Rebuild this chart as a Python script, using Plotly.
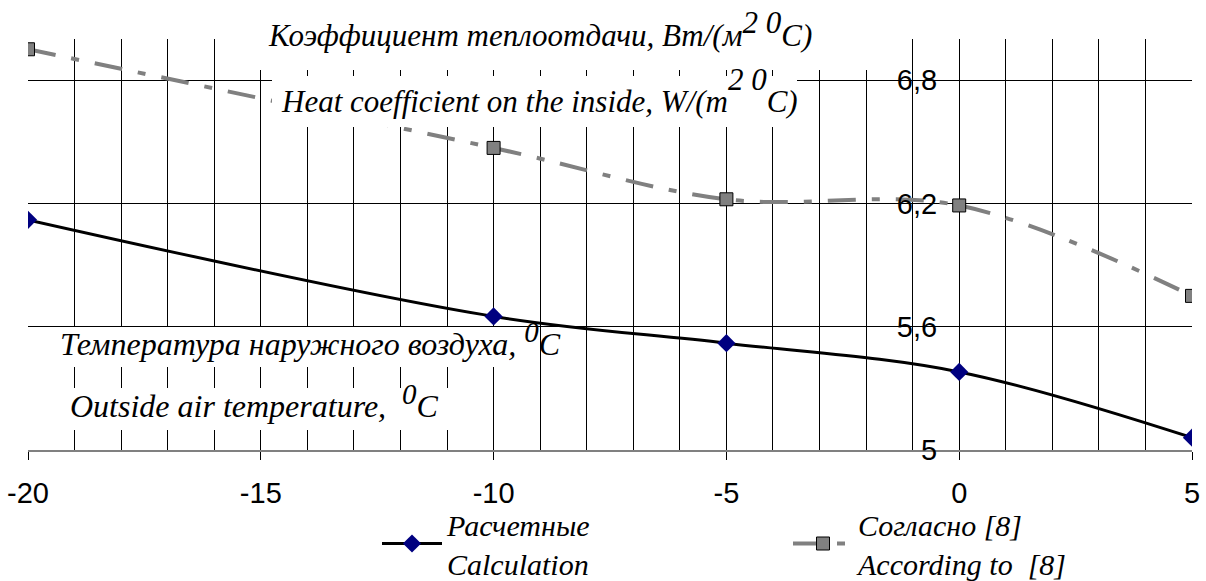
import plotly.graph_objects as go

# Outside air temperature, °C
temps = [-20, -10, -5, 0, 5]
# Heat coefficient on the inside, W/(m2 °C)
calc_vals = [6.12, 5.65, 5.52, 5.38, 5.06]
ref_vals = [6.95, 6.47, 6.22, 6.19, 5.75]

x_ticks = [-20, -15, -10, -5, 0, 5]
x_tick_labels = ["-20", "-15", "-10", "-5", "0", "5"]
y_ticks = [5, 5.6, 6.2, 6.8]
y_tick_labels = ["5", "5,6", "6,2", "6,8"]

calc_name = "Расчетные<br>Calculation"
ref_name = "Согласно [8]<br>According to  [8]"

W, H = 1206, 581
ML, MR, MT, MB = 28, 14, 39, 131
PW, PH = W - ML - MR, H - MT - MB

SERIF = dict(family="Liberation Serif, Times New Roman, serif", size=31,
             color="black", style="italic")
SANS = dict(family="Liberation Sans, Arial, sans-serif", size=29, color="black")


def px(xp):
    return (xp - ML) / PW


def py(yp):
    return (MT + PH - yp) / PH


def raised(text, size, levels):
    # full-size superscript, lifted one or two superscript steps
    inner = "<span style='font-size:{}px'>{}</span>".format(size, text)
    return "<sup>" * levels + inner + "</sup>" * levels


fig = go.Figure()
fig.add_trace(go.Scatter(
    x=temps, y=calc_vals, name=calc_name, mode="lines+markers",
    line=dict(color="black", width=3, shape="spline", smoothing=1),
    marker=dict(symbol="diamond", size=14, color="#000080"),
))
fig.add_trace(go.Scatter(
    x=temps, y=ref_vals, name=ref_name, mode="lines+markers",
    line=dict(color="#808080", width=4, shape="spline", smoothing=1,
              dash="28px,16px,8px,16px"),
    marker=dict(symbol="square", size=13, color="#808080",
                line=dict(color="black", width=1)),
))

# white label boxes sitting over the grid
boxes = [(240, 0, 890, 70), (272, 76, 797, 127),
         (30, 327, 515, 367), (30, 388, 470, 430)]
for x0, y0, x1, y1 in boxes:
    fig.add_shape(type="rect", xref="paper", yref="paper", layer="above",
                  x0=px(x0), x1=px(x1), y0=py(y1), y1=py(y0),
                  fillcolor="white", line=dict(width=0))

labels = [
    ("Коэффициент теплоотдачи, Вт/(м" + raised("2 0", 31, 1) + "C)", 266, 29, 31),
    ("Heat coefficient on the inside, W/(m" + raised("2 0", 31, 2) + "C)", 279, 91, 31),
    ("Температура наружного воздуха, " + raised("0", 29, 1) + "C", 58, 339, 32),
    ("Outside air temperature,  " + raised("0", 29, 1) + "C", 68, 401, 32),
]
for text, xp, yp, fs in labels:
    fig.add_annotation(text=text, xref="paper", yref="paper", x=px(xp), y=py(yp),
                       xanchor="left", yanchor="middle", showarrow=False,
                       font=dict(SERIF, size=fs), align="left")

fig.update_layout(
    width=W, height=H,
    margin=dict(l=ML, r=MR, t=MT, b=MB, autoexpand=False),
    paper_bgcolor="white", plot_bgcolor="white",
    showlegend=True,
    legend=dict(orientation="h", x=px(377), y=py(498), xanchor="left",
                yanchor="top", font=dict(SERIF, size=30), entrywidth=336,
                itemwidth=60, bgcolor="rgba(0,0,0,0)", traceorder="normal"),
    xaxis=dict(range=[-20, 5], tickmode="array", tickvals=x_ticks,
               ticktext=x_tick_labels,
               ticks="outside", ticklen=8, tickcolor="black", tickwidth=1,
               showgrid=True, gridcolor="black", gridwidth=1,
               minor=dict(tickmode="linear", dtick=1, tick0=-20, showgrid=True,
                          gridcolor="black", gridwidth=1, ticks=""),
               showline=True, linecolor="#808080", linewidth=2,
               zeroline=False, tickfont=SANS, ticklabelstandoff=8,
               automargin=False),
    yaxis=dict(range=[5, 7], tickmode="array", tickvals=y_ticks,
               ticktext=y_tick_labels, anchor="free", position=0.8,
               ticks="", showgrid=True, gridcolor="black", gridwidth=1,
               zeroline=False, showline=False, tickfont=SANS,
               ticklabelstandoff=22, automargin=False),
)

fig.write_html("out.html")
